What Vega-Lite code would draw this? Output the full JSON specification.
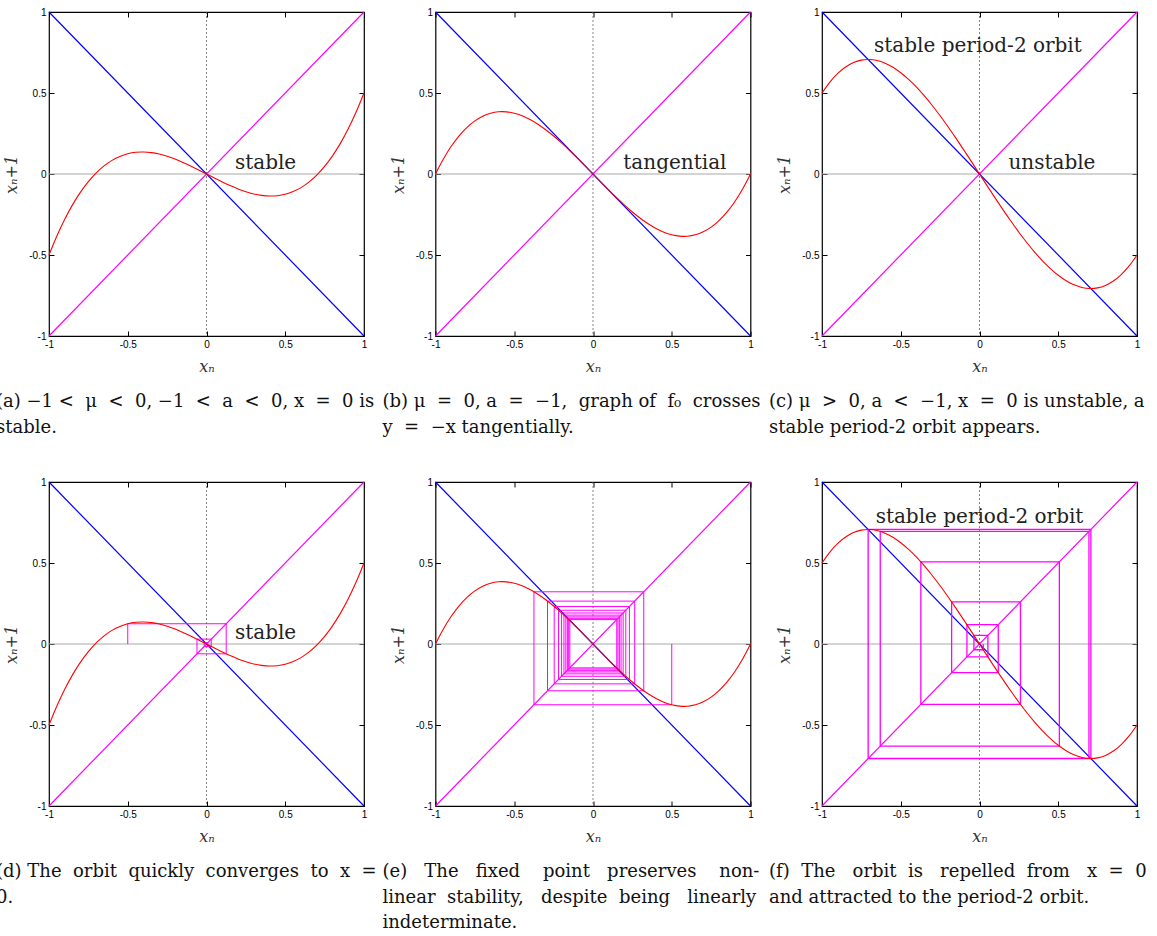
{
  "$schema": "https://vega.github.io/schema/vega-lite/v6.json",
  "padding": {"left": -5, "top": 6, "right": 0, "bottom": 0},
  "background": "#ffffff",
  "datasets": {
    "origin": [{"v": 0}],
    "diag": [
      {"line": "y = x", "x": -1, "y": -1},
      {"line": "y = x", "x": 1, "y": 1},
      {"line": "y = -x", "x": -1, "y": 1},
      {"line": "y = -x", "x": 1, "y": -1}
    ],
    "map": [
      {"x": -1, "y_stable": -0.5, "y_tangent": 0, "y_unstable": 0.5},
      {"x": -0.95, "y_stable": -0.3824, "y_tangent": 0.0926, "y_unstable": 0.5676},
      {"x": -0.9, "y_stable": -0.279, "y_tangent": 0.171, "y_unstable": 0.621},
      {"x": -0.85, "y_stable": -0.1891, "y_tangent": 0.2359, "y_unstable": 0.6609},
      {"x": -0.8, "y_stable": -0.112, "y_tangent": 0.288, "y_unstable": 0.688},
      {"x": -0.75, "y_stable": -0.0469, "y_tangent": 0.3281, "y_unstable": 0.7031},
      {"x": -0.7, "y_stable": 0.007, "y_tangent": 0.357, "y_unstable": 0.707},
      {"x": -0.65, "y_stable": 0.0504, "y_tangent": 0.3754, "y_unstable": 0.7004},
      {"x": -0.6, "y_stable": 0.084, "y_tangent": 0.384, "y_unstable": 0.684},
      {"x": -0.55, "y_stable": 0.1086, "y_tangent": 0.3836, "y_unstable": 0.6586},
      {"x": -0.5, "y_stable": 0.125, "y_tangent": 0.375, "y_unstable": 0.625},
      {"x": -0.45, "y_stable": 0.1339, "y_tangent": 0.3589, "y_unstable": 0.5839},
      {"x": -0.4, "y_stable": 0.136, "y_tangent": 0.336, "y_unstable": 0.536},
      {"x": -0.35, "y_stable": 0.1321, "y_tangent": 0.3071, "y_unstable": 0.4821},
      {"x": -0.3, "y_stable": 0.123, "y_tangent": 0.273, "y_unstable": 0.423},
      {"x": -0.25, "y_stable": 0.1094, "y_tangent": 0.2344, "y_unstable": 0.3594},
      {"x": -0.2, "y_stable": 0.092, "y_tangent": 0.192, "y_unstable": 0.292},
      {"x": -0.15, "y_stable": 0.0716, "y_tangent": 0.1466, "y_unstable": 0.2216},
      {"x": -0.1, "y_stable": 0.049, "y_tangent": 0.099, "y_unstable": 0.149},
      {"x": -0.05, "y_stable": 0.0249, "y_tangent": 0.0499, "y_unstable": 0.0749},
      {"x": 0, "y_stable": 0, "y_tangent": 0, "y_unstable": 0},
      {"x": 0.05, "y_stable": -0.0249, "y_tangent": -0.0499, "y_unstable": -0.0749},
      {"x": 0.1, "y_stable": -0.049, "y_tangent": -0.099, "y_unstable": -0.149},
      {"x": 0.15, "y_stable": -0.0716, "y_tangent": -0.1466, "y_unstable": -0.2216},
      {"x": 0.2, "y_stable": -0.092, "y_tangent": -0.192, "y_unstable": -0.292},
      {"x": 0.25, "y_stable": -0.1094, "y_tangent": -0.2344, "y_unstable": -0.3594},
      {"x": 0.3, "y_stable": -0.123, "y_tangent": -0.273, "y_unstable": -0.423},
      {"x": 0.35, "y_stable": -0.1321, "y_tangent": -0.3071, "y_unstable": -0.4821},
      {"x": 0.4, "y_stable": -0.136, "y_tangent": -0.336, "y_unstable": -0.536},
      {"x": 0.45, "y_stable": -0.1339, "y_tangent": -0.3589, "y_unstable": -0.5839},
      {"x": 0.5, "y_stable": -0.125, "y_tangent": -0.375, "y_unstable": -0.625},
      {"x": 0.55, "y_stable": -0.1086, "y_tangent": -0.3836, "y_unstable": -0.6586},
      {"x": 0.6, "y_stable": -0.084, "y_tangent": -0.384, "y_unstable": -0.684},
      {"x": 0.65, "y_stable": -0.0504, "y_tangent": -0.3754, "y_unstable": -0.7004},
      {"x": 0.7, "y_stable": -0.007, "y_tangent": -0.357, "y_unstable": -0.707},
      {"x": 0.75, "y_stable": 0.0469, "y_tangent": -0.3281, "y_unstable": -0.7031},
      {"x": 0.8, "y_stable": 0.112, "y_tangent": -0.288, "y_unstable": -0.688},
      {"x": 0.85, "y_stable": 0.1891, "y_tangent": -0.2359, "y_unstable": -0.6609},
      {"x": 0.9, "y_stable": 0.279, "y_tangent": -0.171, "y_unstable": -0.621},
      {"x": 0.95, "y_stable": 0.3824, "y_tangent": -0.0926, "y_unstable": -0.5676},
      {"x": 1, "y_stable": 0.5, "y_tangent": 0, "y_unstable": -0.5}
    ],
    "orbit_d": [
      {"i": 1, "x": -0.5, "y": 0},
      {"i": 2, "x": -0.5, "y": 0.125},
      {"i": 3, "x": 0.125, "y": 0.125},
      {"i": 4, "x": 0.125, "y": -0.0605},
      {"i": 5, "x": -0.0605, "y": -0.0605},
      {"i": 6, "x": -0.0605, "y": 0.0301},
      {"i": 7, "x": 0.0301, "y": 0.0301},
      {"i": 8, "x": 0.0301, "y": -0.015},
      {"i": 9, "x": -0.015, "y": -0.015},
      {"i": 10, "x": -0.015, "y": 0.0075},
      {"i": 11, "x": 0.0075, "y": 0.0075},
      {"i": 12, "x": 0.0075, "y": -0.0037},
      {"i": 13, "x": -0.0037, "y": -0.0037},
      {"i": 14, "x": -0.0037, "y": 0.0019}
    ],
    "orbit_e": [
      {"i": 1, "x": 0.5, "y": 0},
      {"i": 2, "x": 0.5, "y": -0.375},
      {"i": 3, "x": -0.375, "y": -0.375},
      {"i": 4, "x": -0.375, "y": 0.3223},
      {"i": 5, "x": 0.3223, "y": 0.3223},
      {"i": 6, "x": 0.3223, "y": -0.2888},
      {"i": 7, "x": -0.2888, "y": -0.2888},
      {"i": 8, "x": -0.2888, "y": 0.2647},
      {"i": 9, "x": 0.2647, "y": 0.2647},
      {"i": 10, "x": 0.2647, "y": -0.2462},
      {"i": 11, "x": -0.2462, "y": -0.2462},
      {"i": 12, "x": -0.2462, "y": 0.2312},
      {"i": 13, "x": 0.2312, "y": 0.2312},
      {"i": 14, "x": 0.2312, "y": -0.2189},
      {"i": 15, "x": -0.2189, "y": -0.2189},
      {"i": 16, "x": -0.2189, "y": 0.2084},
      {"i": 17, "x": 0.2084, "y": 0.2084},
      {"i": 18, "x": 0.2084, "y": -0.1993},
      {"i": 19, "x": -0.1993, "y": -0.1993},
      {"i": 20, "x": -0.1993, "y": 0.1914},
      {"i": 21, "x": 0.1914, "y": 0.1914},
      {"i": 22, "x": 0.1914, "y": -0.1844},
      {"i": 23, "x": -0.1844, "y": -0.1844},
      {"i": 24, "x": -0.1844, "y": 0.1781},
      {"i": 25, "x": 0.1781, "y": 0.1781},
      {"i": 26, "x": 0.1781, "y": -0.1725},
      {"i": 27, "x": -0.1725, "y": -0.1725},
      {"i": 28, "x": -0.1725, "y": 0.1674},
      {"i": 29, "x": 0.1674, "y": 0.1674},
      {"i": 30, "x": 0.1674, "y": -0.1627},
      {"i": 31, "x": -0.1627, "y": -0.1627},
      {"i": 32, "x": -0.1627, "y": 0.1584},
      {"i": 33, "x": 0.1584, "y": 0.1584},
      {"i": 34, "x": 0.1584, "y": -0.1544},
      {"i": 35, "x": -0.1544, "y": -0.1544},
      {"i": 36, "x": -0.1544, "y": 0.1507},
      {"i": 37, "x": 0.1507, "y": 0.1507},
      {"i": 38, "x": 0.1507, "y": -0.1473},
      {"i": 39, "x": -0.1473, "y": -0.1473},
      {"i": 40, "x": -0.1473, "y": 0.1441}
    ],
    "orbit_f": [
      {"i": 1, "x": 0.0237, "y": 0},
      {"i": 2, "x": 0.0237, "y": -0.0355},
      {"i": 3, "x": -0.0355, "y": -0.0355},
      {"i": 4, "x": -0.0355, "y": 0.0533},
      {"i": 5, "x": 0.0533, "y": 0.0533},
      {"i": 6, "x": 0.0533, "y": -0.0798},
      {"i": 7, "x": -0.0798, "y": -0.0798},
      {"i": 8, "x": -0.0798, "y": 0.1191},
      {"i": 9, "x": 0.1191, "y": 0.1191},
      {"i": 10, "x": 0.1191, "y": -0.177},
      {"i": 11, "x": -0.177, "y": -0.177},
      {"i": 12, "x": -0.177, "y": 0.26},
      {"i": 13, "x": 0.26, "y": 0.26},
      {"i": 14, "x": 0.26, "y": -0.3724},
      {"i": 15, "x": -0.3724, "y": -0.3724},
      {"i": 16, "x": -0.3724, "y": 0.507},
      {"i": 17, "x": 0.507, "y": 0.507},
      {"i": 18, "x": 0.507, "y": -0.6302},
      {"i": 19, "x": -0.6302, "y": -0.6302},
      {"i": 20, "x": -0.6302, "y": 0.695},
      {"i": 21, "x": 0.695, "y": 0.695},
      {"i": 22, "x": 0.695, "y": -0.7068},
      {"i": 23, "x": -0.7068, "y": -0.7068},
      {"i": 24, "x": -0.7068, "y": 0.7071},
      {"i": 25, "x": 0.7071, "y": 0.7071},
      {"i": 26, "x": 0.7071, "y": -0.7071},
      {"i": 27, "x": -0.7071, "y": -0.7071},
      {"i": 28, "x": -0.7071, "y": 0.7071},
      {"i": 29, "x": 0.7071, "y": 0.7071},
      {"i": 30, "x": 0.7071, "y": -0.7071}
    ]
  },
  "columns": 3,
  "spacing": {"row": 146, "column": 71.5},
  "bounds": "flush",
  "concat": [
    {
      "width": 315, "height": 324,
      "title": {"text": ["(a) −1 <\u00a0 μ\u00a0 <\u00a0 0, −1\u00a0 <\u00a0 a\u00a0 <\u00a0 0, x\u00a0 =\u00a0 0 is", "stable."]},
      "layer": [
        {"data": {"name": "origin"}, "mark": {"type": "rule", "color": "#a8a8a8", "strokeWidth": 1},
         "encoding": {"y": {"field": "v", "type": "quantitative", "scale": {"domain": [-1, 1], "nice": false},
           "axis": {"orient": "left", "values": [-1, -0.5, 0, 0.5, 1], "labelExpr": "toString(datum.value)", "title": "xₙ+1"}}}},
        {"data": {"name": "origin"}, "mark": {"type": "rule", "color": "#666666", "strokeWidth": 0.8, "strokeDash": [2, 2]},
         "encoding": {"x": {"field": "v", "type": "quantitative", "scale": {"domain": [-1, 1], "nice": false},
           "axis": {"orient": "bottom", "values": [-1, -0.5, 0, 0.5, 1], "labelExpr": "toString(datum.value)", "title": "xₙ"}}}},
        {"data": {"name": "diag"}, "mark": {"type": "line", "strokeWidth": 1.2},
         "encoding": {
           "x": {"field": "x", "type": "quantitative", "axis": {"orient": "top", "values": [-1, -0.5, 0, 0.5, 1], "labels": false, "title": null}},
           "y": {"field": "y", "type": "quantitative", "axis": {"orient": "right", "values": [-1, -0.5, 0, 0.5, 1], "labels": false, "title": null}},
           "color": {"field": "line", "type": "nominal", "scale": {"domain": ["y = x", "y = -x"], "range": ["#ff00ff", "#0000ff"]}, "legend": null}}},
        {"data": {"name": "map"}, "mark": {"type": "line", "color": "#ff0000", "strokeWidth": 1.1, "interpolate": "catmull-rom"},
         "encoding": {"x": {"field": "x", "type": "quantitative", "axis": null}, "y": {"field": "y_stable", "type": "quantitative", "axis": null}}},
        {"data": {"values": [{"x": 0.375, "y": 0.03, "label": "stable"}]},
         "mark": {"type": "text", "font": "DejaVu Serif", "fontSize": 20, "color": "#222222", "align": "center", "baseline": "alphabetic"},
         "encoding": {"x": {"field": "x", "type": "quantitative", "axis": null}, "y": {"field": "y", "type": "quantitative", "axis": null}, "text": {"field": "label"}}}
      ],
      "resolve": {"axis": {"x": "independent", "y": "independent"}}
    },
    {
      "width": 315, "height": 324,
      "title": {"text": ["(b) μ\u00a0 =\u00a0 0, a\u00a0 =\u00a0 −1,\u00a0 graph of\u00a0 f₀\u00a0 crosses", "y\u00a0 =\u00a0 −x tangentially."]},
      "layer": [
        {"data": {"name": "origin"}, "mark": {"type": "rule", "color": "#a8a8a8", "strokeWidth": 1},
         "encoding": {"y": {"field": "v", "type": "quantitative", "scale": {"domain": [-1, 1], "nice": false},
           "axis": {"orient": "left", "values": [-1, -0.5, 0, 0.5, 1], "labelExpr": "toString(datum.value)", "title": "xₙ+1"}}}},
        {"data": {"name": "origin"}, "mark": {"type": "rule", "color": "#666666", "strokeWidth": 0.8, "strokeDash": [2, 2]},
         "encoding": {"x": {"field": "v", "type": "quantitative", "scale": {"domain": [-1, 1], "nice": false},
           "axis": {"orient": "bottom", "values": [-1, -0.5, 0, 0.5, 1], "labelExpr": "toString(datum.value)", "title": "xₙ"}}}},
        {"data": {"name": "diag"}, "mark": {"type": "line", "strokeWidth": 1.2},
         "encoding": {
           "x": {"field": "x", "type": "quantitative", "axis": {"orient": "top", "values": [-1, -0.5, 0, 0.5, 1], "labels": false, "title": null}},
           "y": {"field": "y", "type": "quantitative", "axis": {"orient": "right", "values": [-1, -0.5, 0, 0.5, 1], "labels": false, "title": null}},
           "color": {"field": "line", "type": "nominal", "scale": {"domain": ["y = x", "y = -x"], "range": ["#ff00ff", "#0000ff"]}, "legend": null}}},
        {"data": {"name": "map"}, "mark": {"type": "line", "color": "#ff0000", "strokeWidth": 1.1, "interpolate": "catmull-rom"},
         "encoding": {"x": {"field": "x", "type": "quantitative", "axis": null}, "y": {"field": "y_tangent", "type": "quantitative", "axis": null}}},
        {"data": {"values": [{"x": 0.52, "y": 0.03, "label": "tangential"}]},
         "mark": {"type": "text", "font": "DejaVu Serif", "fontSize": 20, "color": "#222222", "align": "center", "baseline": "alphabetic"},
         "encoding": {"x": {"field": "x", "type": "quantitative", "axis": null}, "y": {"field": "y", "type": "quantitative", "axis": null}, "text": {"field": "label"}}}
      ],
      "resolve": {"axis": {"x": "independent", "y": "independent"}}
    },
    {
      "width": 315, "height": 324,
      "title": {"text": ["(c) μ\u00a0 >\u00a0 0, a\u00a0 <\u00a0 −1, x\u00a0 =\u00a0 0 is unstable, a", "stable period-2 orbit appears."]},
      "layer": [
        {"data": {"name": "origin"}, "mark": {"type": "rule", "color": "#a8a8a8", "strokeWidth": 1},
         "encoding": {"y": {"field": "v", "type": "quantitative", "scale": {"domain": [-1, 1], "nice": false},
           "axis": {"orient": "left", "values": [-1, -0.5, 0, 0.5, 1], "labelExpr": "toString(datum.value)", "title": "xₙ+1"}}}},
        {"data": {"name": "origin"}, "mark": {"type": "rule", "color": "#666666", "strokeWidth": 0.8, "strokeDash": [2, 2]},
         "encoding": {"x": {"field": "v", "type": "quantitative", "scale": {"domain": [-1, 1], "nice": false},
           "axis": {"orient": "bottom", "values": [-1, -0.5, 0, 0.5, 1], "labelExpr": "toString(datum.value)", "title": "xₙ"}}}},
        {"data": {"name": "diag"}, "mark": {"type": "line", "strokeWidth": 1.2},
         "encoding": {
           "x": {"field": "x", "type": "quantitative", "axis": {"orient": "top", "values": [-1, -0.5, 0, 0.5, 1], "labels": false, "title": null}},
           "y": {"field": "y", "type": "quantitative", "axis": {"orient": "right", "values": [-1, -0.5, 0, 0.5, 1], "labels": false, "title": null}},
           "color": {"field": "line", "type": "nominal", "scale": {"domain": ["y = x", "y = -x"], "range": ["#ff00ff", "#0000ff"]}, "legend": null}}},
        {"data": {"name": "map"}, "mark": {"type": "line", "color": "#ff0000", "strokeWidth": 1.1, "interpolate": "catmull-rom"},
         "encoding": {"x": {"field": "x", "type": "quantitative", "axis": null}, "y": {"field": "y_unstable", "type": "quantitative", "axis": null}}},
        {"data": {"values": [{"x": 0.46, "y": 0.03, "label": "unstable"}, {"x": -0.01, "y": 0.753, "label": "stable period-2 orbit"}]},
         "mark": {"type": "text", "font": "DejaVu Serif", "fontSize": 20, "color": "#222222", "align": "center", "baseline": "alphabetic"},
         "encoding": {"x": {"field": "x", "type": "quantitative", "axis": null}, "y": {"field": "y", "type": "quantitative", "axis": null}, "text": {"field": "label"}}}
      ],
      "resolve": {"axis": {"x": "independent", "y": "independent"}}
    },
    {
      "width": 315, "height": 324,
      "title": {"text": ["(d) The\u00a0 orbit\u00a0 quickly\u00a0 converges\u00a0 to\u00a0 x\u00a0 =", "0."]},
      "layer": [
        {"data": {"name": "origin"}, "mark": {"type": "rule", "color": "#a8a8a8", "strokeWidth": 1},
         "encoding": {"y": {"field": "v", "type": "quantitative", "scale": {"domain": [-1, 1], "nice": false},
           "axis": {"orient": "left", "values": [-1, -0.5, 0, 0.5, 1], "labelExpr": "toString(datum.value)", "title": "xₙ+1"}}}},
        {"data": {"name": "origin"}, "mark": {"type": "rule", "color": "#666666", "strokeWidth": 0.8, "strokeDash": [2, 2]},
         "encoding": {"x": {"field": "v", "type": "quantitative", "scale": {"domain": [-1, 1], "nice": false},
           "axis": {"orient": "bottom", "values": [-1, -0.5, 0, 0.5, 1], "labelExpr": "toString(datum.value)", "title": "xₙ"}}}},
        {"data": {"name": "diag"}, "mark": {"type": "line", "strokeWidth": 1.2},
         "encoding": {
           "x": {"field": "x", "type": "quantitative", "axis": {"orient": "top", "values": [-1, -0.5, 0, 0.5, 1], "labels": false, "title": null}},
           "y": {"field": "y", "type": "quantitative", "axis": {"orient": "right", "values": [-1, -0.5, 0, 0.5, 1], "labels": false, "title": null}},
           "color": {"field": "line", "type": "nominal", "scale": {"domain": ["y = x", "y = -x"], "range": ["#ff00ff", "#0000ff"]}, "legend": null}}},
        {"data": {"name": "orbit_d"}, "mark": {"type": "line", "color": "#ff00ff", "strokeWidth": 1},
         "encoding": {"x": {"field": "x", "type": "quantitative", "axis": null}, "y": {"field": "y", "type": "quantitative", "axis": null}, "order": {"field": "i"}}},
        {"data": {"name": "map"}, "mark": {"type": "line", "color": "#ff0000", "strokeWidth": 1.1, "interpolate": "catmull-rom"},
         "encoding": {"x": {"field": "x", "type": "quantitative", "axis": null}, "y": {"field": "y_stable", "type": "quantitative", "axis": null}}},
        {"data": {"values": [{"x": 0.375, "y": 0.03, "label": "stable"}]},
         "mark": {"type": "text", "font": "DejaVu Serif", "fontSize": 20, "color": "#222222", "align": "center", "baseline": "alphabetic"},
         "encoding": {"x": {"field": "x", "type": "quantitative", "axis": null}, "y": {"field": "y", "type": "quantitative", "axis": null}, "text": {"field": "label"}}}
      ],
      "resolve": {"axis": {"x": "independent", "y": "independent"}}
    },
    {
      "width": 315, "height": 324,
      "title": {"text": ["(e)\u00a0\u00a0 The\u00a0\u00a0 fixed\u00a0\u00a0\u00a0 point\u00a0\u00a0 preserves\u00a0\u00a0\u00a0 non-", "linear\u00a0 stability,\u00a0\u00a0 despite\u00a0 being\u00a0\u00a0 linearly", "indeterminate."]},
      "layer": [
        {"data": {"name": "origin"}, "mark": {"type": "rule", "color": "#a8a8a8", "strokeWidth": 1},
         "encoding": {"y": {"field": "v", "type": "quantitative", "scale": {"domain": [-1, 1], "nice": false},
           "axis": {"orient": "left", "values": [-1, -0.5, 0, 0.5, 1], "labelExpr": "toString(datum.value)", "title": "xₙ+1"}}}},
        {"data": {"name": "origin"}, "mark": {"type": "rule", "color": "#666666", "strokeWidth": 0.8, "strokeDash": [2, 2]},
         "encoding": {"x": {"field": "v", "type": "quantitative", "scale": {"domain": [-1, 1], "nice": false},
           "axis": {"orient": "bottom", "values": [-1, -0.5, 0, 0.5, 1], "labelExpr": "toString(datum.value)", "title": "xₙ"}}}},
        {"data": {"name": "diag"}, "mark": {"type": "line", "strokeWidth": 1.2},
         "encoding": {
           "x": {"field": "x", "type": "quantitative", "axis": {"orient": "top", "values": [-1, -0.5, 0, 0.5, 1], "labels": false, "title": null}},
           "y": {"field": "y", "type": "quantitative", "axis": {"orient": "right", "values": [-1, -0.5, 0, 0.5, 1], "labels": false, "title": null}},
           "color": {"field": "line", "type": "nominal", "scale": {"domain": ["y = x", "y = -x"], "range": ["#ff00ff", "#0000ff"]}, "legend": null}}},
        {"data": {"name": "orbit_e"}, "mark": {"type": "line", "color": "#ff00ff", "strokeWidth": 1},
         "encoding": {"x": {"field": "x", "type": "quantitative", "axis": null}, "y": {"field": "y", "type": "quantitative", "axis": null}, "order": {"field": "i"}}},
        {"data": {"name": "map"}, "mark": {"type": "line", "color": "#ff0000", "strokeWidth": 1.1, "interpolate": "catmull-rom"},
         "encoding": {"x": {"field": "x", "type": "quantitative", "axis": null}, "y": {"field": "y_tangent", "type": "quantitative", "axis": null}}}
      ],
      "resolve": {"axis": {"x": "independent", "y": "independent"}}
    },
    {
      "width": 315, "height": 324,
      "title": {"text": ["(f)\u00a0 The\u00a0\u00a0 orbit\u00a0 is\u00a0\u00a0 repelled\u00a0 from\u00a0\u00a0 x\u00a0 =\u00a0 0", "and attracted to the period-2 orbit."]},
      "layer": [
        {"data": {"name": "origin"}, "mark": {"type": "rule", "color": "#a8a8a8", "strokeWidth": 1},
         "encoding": {"y": {"field": "v", "type": "quantitative", "scale": {"domain": [-1, 1], "nice": false},
           "axis": {"orient": "left", "values": [-1, -0.5, 0, 0.5, 1], "labelExpr": "toString(datum.value)", "title": "xₙ+1"}}}},
        {"data": {"name": "origin"}, "mark": {"type": "rule", "color": "#666666", "strokeWidth": 0.8, "strokeDash": [2, 2]},
         "encoding": {"x": {"field": "v", "type": "quantitative", "scale": {"domain": [-1, 1], "nice": false},
           "axis": {"orient": "bottom", "values": [-1, -0.5, 0, 0.5, 1], "labelExpr": "toString(datum.value)", "title": "xₙ"}}}},
        {"data": {"name": "diag"}, "mark": {"type": "line", "strokeWidth": 1.2},
         "encoding": {
           "x": {"field": "x", "type": "quantitative", "axis": {"orient": "top", "values": [-1, -0.5, 0, 0.5, 1], "labels": false, "title": null}},
           "y": {"field": "y", "type": "quantitative", "axis": {"orient": "right", "values": [-1, -0.5, 0, 0.5, 1], "labels": false, "title": null}},
           "color": {"field": "line", "type": "nominal", "scale": {"domain": ["y = x", "y = -x"], "range": ["#ff00ff", "#0000ff"]}, "legend": null}}},
        {"data": {"name": "orbit_f"}, "mark": {"type": "line", "color": "#ff00ff", "strokeWidth": 1.3},
         "encoding": {"x": {"field": "x", "type": "quantitative", "axis": null}, "y": {"field": "y", "type": "quantitative", "axis": null}, "order": {"field": "i"}}},
        {"data": {"name": "map"}, "mark": {"type": "line", "color": "#ff0000", "strokeWidth": 1.1, "interpolate": "catmull-rom"},
         "encoding": {"x": {"field": "x", "type": "quantitative", "axis": null}, "y": {"field": "y_unstable", "type": "quantitative", "axis": null}}},
        {"data": {"values": [{"x": 0, "y": 0.75, "label": "stable period-2 orbit"}]},
         "mark": {"type": "text", "font": "DejaVu Serif", "fontSize": 20, "color": "#222222", "align": "center", "baseline": "alphabetic"},
         "encoding": {"x": {"field": "x", "type": "quantitative", "axis": null}, "y": {"field": "y", "type": "quantitative", "axis": null}, "text": {"field": "label"}}}
      ],
      "resolve": {"axis": {"x": "independent", "y": "independent"}}
    }
  ],
  "config": {
    "view": {"stroke": "#000000", "strokeWidth": 1.2},
    "axis": {
      "domain": false,
      "grid": false,
      "ticks": true,
      "tickSize": -5,
      "tickColor": "#000000",
      "tickWidth": 1,
      "labelFont": "Liberation Sans Narrow, Liberation Sans, Arial, sans-serif",
      "labelFontSize": 10,
      "labelColor": "#000000",
      "labelPadding": 8,
      "labelFlush": false,
      "labelOverlap": false,
      "titleFont": "DejaVu Serif",
      "titleFontStyle": "italic",
      "titleFontWeight": "normal",
      "titleFontSize": 16,
      "titleColor": "#333333",
      "titlePadding": 9
    },
    "title": {
      "orient": "bottom",
      "anchor": "start",
      "frame": "group",
      "dx": -53,
      "offset": 19,
      "font": "DejaVu Serif",
      "fontSize": 18,
      "fontWeight": "normal",
      "color": "#111111",
      "lineHeight": 25.5,
      "align": "left",
      "baseline": "alphabetic"
    }
  }
}
